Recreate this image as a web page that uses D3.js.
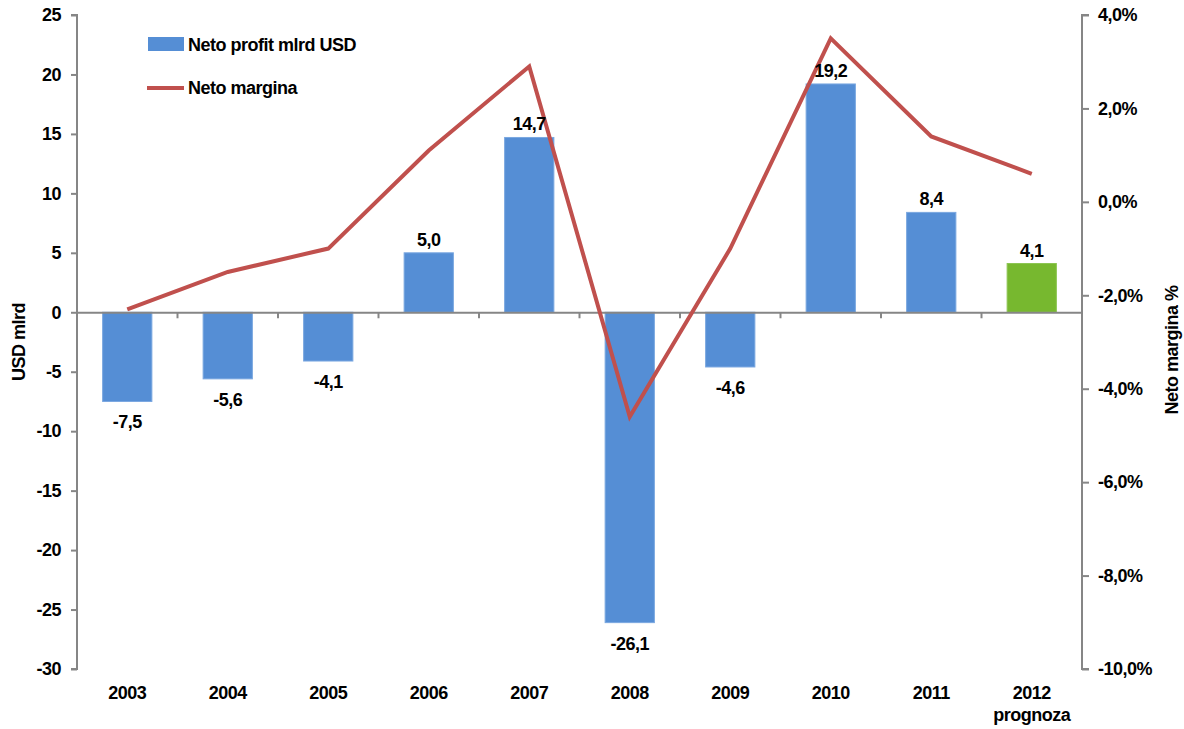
<!DOCTYPE html>
<html><head><meta charset="utf-8">
<script src="https://cdn.jsdelivr.net/npm/d3@7"></script>
<style>
body{margin:0;background:#fff;}
text{font-family:"Liberation Sans Narrow","Arial Narrow","Liberation Sans",Arial,sans-serif;font-weight:bold;fill:#000;letter-spacing:-0.5px;}
</style></head>
<body><svg id="c" width="1184" height="729"></svg>
<script>
const years = ["2003","2004","2005","2006","2007","2008","2009","2010","2011","2012"];
const profit = [-7.5,-5.6,-4.1,5.0,14.7,-26.1,-4.6,19.2,8.4,4.1];
const margin = [-2.3,-1.5,-1.0,1.1,2.9,-4.6,-1.0,3.5,1.4,0.6];
const leftTicks = [25,20,15,10,5,0,-5,-10,-15,-20,-25,-30];
const rightTicks = [4,2,0,-2,-4,-6,-8,-10];
const forecastLabel = "prognoza";
const seriesNames = ["Neto profit mlrd USD","Neto margina"];

const svg = d3.select("#c");
const L = 77, R = 1082, T = 15, B = 669;
const x = d3.scaleBand().domain(years).range([L,R]).paddingInner(0.51).paddingOuter(0.255);
const xb = d3.scaleBand().domain(years).range([L,R]);
const yL = d3.scaleLinear().domain([-30,25]).range([B,T]);
const yR = d3.scaleLinear().domain([-10,4]).range([B,T]);
const axisCol = "#868686";
const fmt = d3.format(".1f");
const comma = v => fmt(v).replace(".",",").replace("\u2212","-");
const FS = "18px";

// bars
svg.append("g").selectAll("rect").data(years).join("rect")
  .attr("x", d=>x(d)).attr("width", x.bandwidth())
  .attr("y", (d,i)=>yL(Math.max(0,profit[i])))
  .attr("height", (d,i)=>Math.abs(yL(profit[i])-yL(0)))
  .attr("fill", (d,i)=> i===years.length-1 ? "#77B82F" : "#558ED5")
  .attr("stroke", (d,i)=> i===years.length-1 ? "#8CC552" : "#7AA7E0").attr("stroke-width",1);

// left axis
const gL = svg.append("g").attr("transform",`translate(${L},0)`)
  .call(d3.axisLeft(yL).tickValues(leftTicks).tickSize(6).tickPadding(10).tickFormat(d=>String(d)));
gL.selectAll("path,line").attr("stroke",axisCol).attr("stroke-width",2);
gL.select(".domain").attr("d",`M-6,${T}H0V${B}H-6`);
gL.selectAll("text").style("font-size",FS).attr("font-family",null);

// right axis
const gR = svg.append("g").attr("transform",`translate(${R},0)`)
  .call(d3.axisRight(yR).tickValues(rightTicks).tickSize(7).tickPadding(9).tickFormat(d=>comma(d)+"%"));
gR.selectAll("path,line").attr("stroke",axisCol).attr("stroke-width",2);
gR.select(".domain").attr("d",`M7,${T}H0V${B}H7`);
gR.selectAll("text").style("font-size",FS).attr("font-family",null);

// zero line with category ticks
const g0 = svg.append("g").attr("transform",`translate(0,${yL(0)})`)
  .call(d3.axisBottom(xb).tickValues([]).tickSize(0));
g0.select(".domain").attr("stroke",axisCol).attr("stroke-width",2);
g0.selectAll("line.cat").data(years.slice(1)).join("line").attr("class","cat")
  .attr("x1",d=>xb(d)).attr("x2",d=>xb(d)).attr("y1",0).attr("y2",6)
  .attr("stroke",axisCol).attr("stroke-width",2);

// category labels
const gx = svg.append("g");
gx.selectAll("text").data(years).join("text")
  .attr("x",d=>xb(d)+xb.bandwidth()/2).attr("y",699)
  .attr("text-anchor","middle").style("font-size",FS).text(d=>d);
gx.append("text").attr("x",xb(years[9])+xb.bandwidth()/2).attr("y",721)
  .attr("text-anchor","middle").style("font-size",FS).text(forecastLabel);

// line
const line = d3.line().x((d,i)=>xb(years[i])+xb.bandwidth()/2).y(d=>yR(d));
svg.append("path").datum(margin).attr("d",line).attr("fill","none")
  .attr("stroke","#C0504D").attr("stroke-width",4).attr("stroke-linejoin","miter");

// data labels
svg.append("g").selectAll("text").data(years).join("text")
  .attr("x",d=>x(d)+x.bandwidth()/2)
  .attr("y",(d,i)=> profit[i]>=0 ? yL(profit[i])-7 : yL(profit[i])+27)
  .attr("text-anchor","middle").style("font-size",FS)
  .text((d,i)=>comma(profit[i]));

// axis titles
svg.append("text").attr("transform",`translate(25,${(T+B)/2}) rotate(-90)`)
  .attr("text-anchor","middle").style("font-size",FS).text("USD mlrd");
svg.append("text").attr("transform",`translate(1178,${(T+B)/2+8}) rotate(-90)`)
  .attr("text-anchor","middle").style("font-size",FS).text("Neto margina %");

// legend
const lg = svg.append("g");
lg.append("rect").attr("x",148).attr("y",37).attr("width",36).attr("height",14).attr("fill","#558ED5");
lg.append("text").attr("x",188).attr("y",51).style("font-size",FS).text(seriesNames[0]);
lg.append("line").attr("x1",147).attr("x2",184).attr("y1",88).attr("y2",88).attr("stroke","#C0504D").attr("stroke-width",4);
lg.append("text").attr("x",188).attr("y",94).style("font-size",FS).text(seriesNames[1]);
</script></body></html>
